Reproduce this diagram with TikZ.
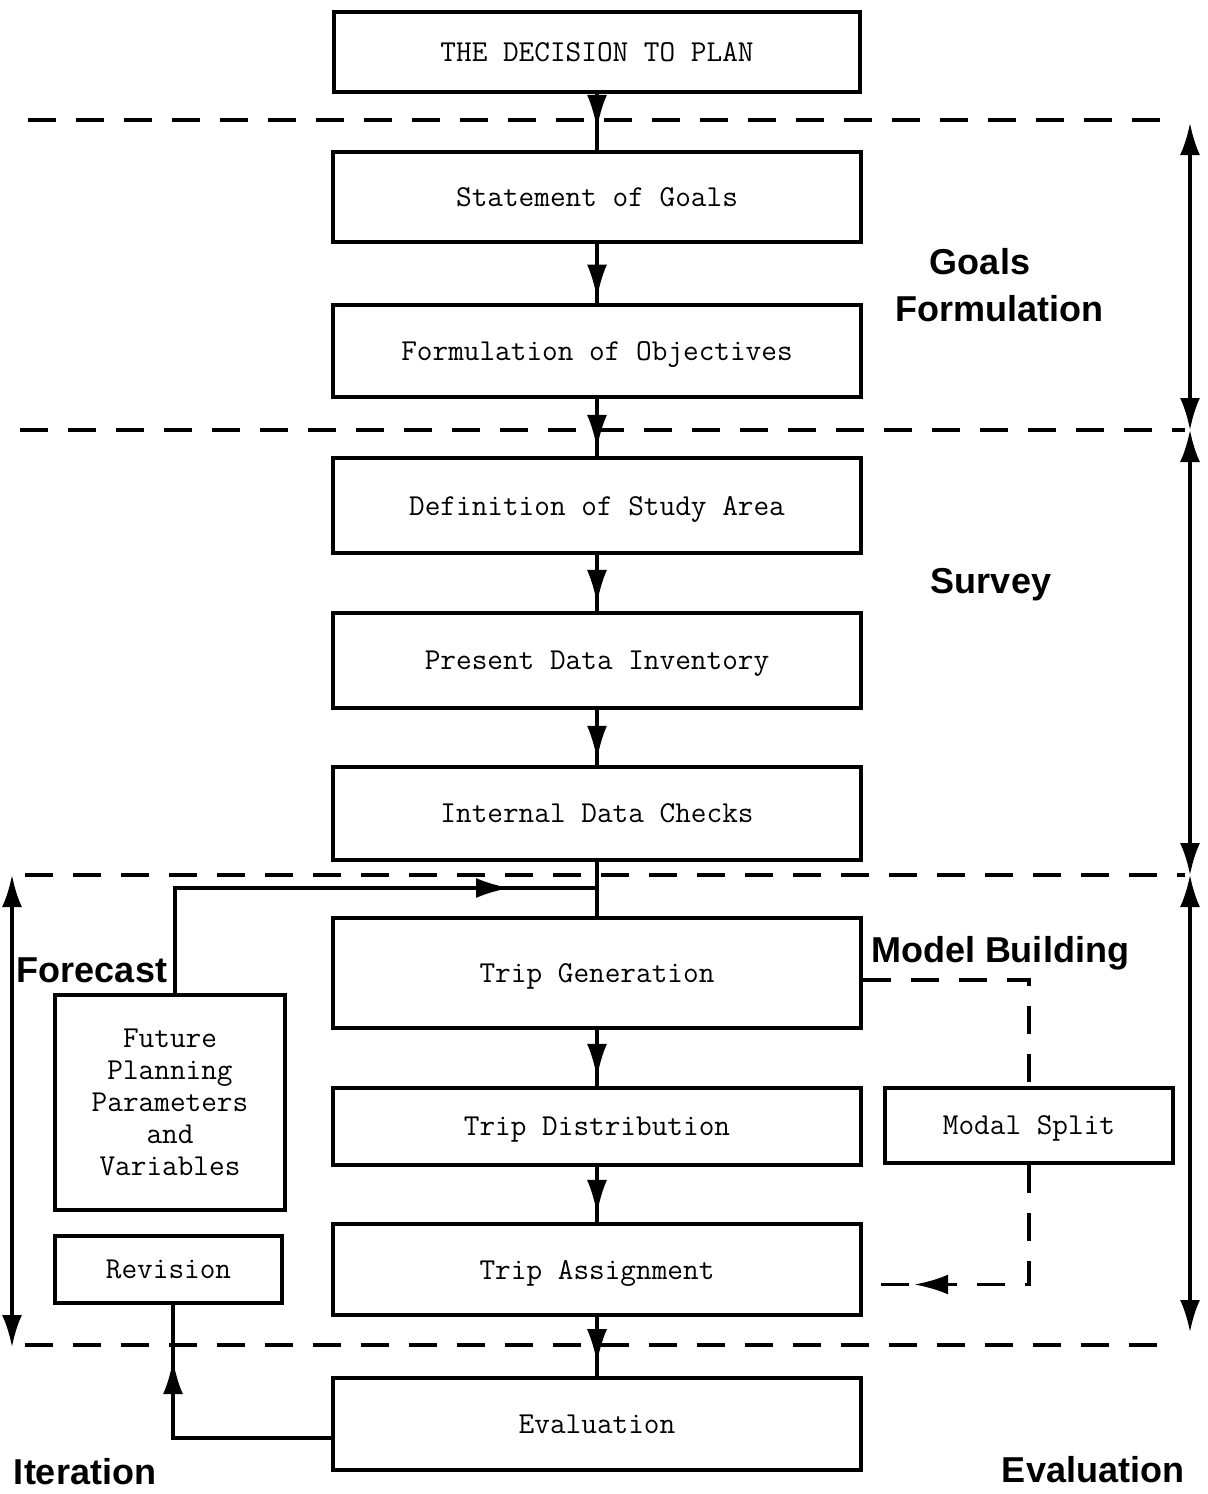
\documentclass[tikz,border=0pt]{standalone}
\usepackage{fontspec}
\newfontfamily\labfont{Liberation Sans}
\usetikzlibrary{arrows.meta,decorations.markings,calc}
\begin{document}
\begin{tikzpicture}[x=0.5pt,y=-0.5pt,
  box/.style={draw,line width=1.7pt,inner sep=0pt,text depth=-1.5pt,font=\ttfamily\fontsize{15.2}{16}\selectfont,align=center},
  sep/.style={line width=1.7pt,dash pattern=on 14pt off 10pt},
  conn/.style={line width=1.7pt},
  flow/.style={line width=1.7pt,postaction={decorate},decoration={markings,mark=at position #1 with {\arrow{Latex[length=17pt,width=10pt]}}}},
  span/.style={line width=1.7pt,{Latex[length=16pt,width=10pt]}-{Latex[length=16pt,width=10pt]}},
  lab/.style={font=\labfont\bfseries\fontsize{18}{21}\selectfont,inner sep=0pt}]
\useasboundingbox (0,0) rectangle (1208,1494);

% main boxes
\node[box,minimum width=263pt,minimum height=40pt] (dec) at (597,52) {THE DECISION TO PLAN};
\node[box,minimum width=264pt,minimum height=45pt] (goals) at (597,197) {Statement of Goals};
\node[box,minimum width=264pt,minimum height=46pt] (obj) at (597,351) {Formulation of Objectives};
\node[box,minimum width=264pt,minimum height=47.5pt] (area) at (597,505.5) {Definition of Study Area};
\node[box,minimum width=264pt,minimum height=47.5pt] (inv) at (597,660.5) {Present Data Inventory};
\node[box,minimum width=264pt,minimum height=46.5pt] (chk) at (597,813.5) {Internal Data Checks};
\node[box,minimum width=264pt,minimum height=55pt] (tg) at (597,973) {Trip Generation};
\node[box,minimum width=264pt,minimum height=38.5pt] (td) at (597,1126.5) {Trip Distribution};
\node[box,minimum width=264pt,minimum height=45.5pt] (ta) at (597,1269.5) {Trip Assignment};
\node[box,minimum width=264pt,minimum height=46pt] (ev) at (597,1424) {Evaluation};

% side boxes
\node[box,minimum width=115pt,minimum height=107.5pt] (fut) at (170,1102.5) {Future\\Planning\\Parameters\\and\\Variables};
\node[box,minimum width=113.5pt,minimum height=33.5pt] (rev) at (168.5,1269.5) {Revision};
\node[box,minimum width=144pt,minimum height=37.5pt] (ms) at (1029,1125.5) {Modal Split};

% dashed separators
\coordinate (s1a) at (28,120);   \coordinate (s1b) at (1178,120);
\coordinate (s2a) at (20,430);   \coordinate (s2b) at (1185,430);
\coordinate (s3a) at (25,875);   \coordinate (s3b) at (1185,875);
\coordinate (s4a) at (25,1345);  \coordinate (s4b) at (1170,1345);
\draw[sep] (s1a) -- (s1b);
\draw[sep] (s2a) -- (s2b);
\draw[sep] (s3a) -- (s3b);
\draw[sep] (s4a) -- (s4b);

% main flow
\draw[flow=0.62] (dec.south) -- (goals.north);
\draw[flow=0.92] (goals.south) -- (obj.north);
\draw[flow=0.87] (obj.south) -- (area.north);
\draw[flow=0.87] (area.south) -- (inv.north);
\draw[flow=0.9] (inv.south) -- (chk.north);
\draw[conn] (chk.south) -- (tg.north);
\draw[flow=0.85] (tg.south) -- (td.north);
\draw[flow=0.85] (td.south) -- (ta.north);
\draw[flow=0.78] (ta.south) -- (ev.north);

% feedback from forecast box
\coordinate (join) at (597,888);
\draw[flow=0.835] (fut.north -| 175,0) |- (join);

% modal split (dashed)
\draw[sep] ([yshift=-3.5pt]tg.east) -| (ms.north);
\draw[sep,flow=0.82] (ms.south) |- ([yshift=-7.5pt]ta.east);

% iteration loop
\draw[flow=0.81] ([yshift=-7pt]ev.west) -| (rev.south -| 173,0);

% stage spans
\coordinate (r1) at (1190,123);
\coordinate (r2) at (1190,430);
\coordinate (r3) at (1190,875);
\coordinate (r4) at (1190,1332);
\coordinate (l1) at (12,875);
\coordinate (l2) at (12,1347);
\draw[span] (r1) -- (r2);
\draw[span] (r2) -- (r3);
\draw[span] (r3) -- (r4);
\draw[span] (l1) -- (l2);

% labels
\node[lab] (lgoals) at (980,262) {Goals};
\node[lab] (lform) at (999,309) {Formulation};
\node[lab] (lsurv) at (991,585) {Survey};
\node[lab] (lmod) at (1000,953) {Model Building};
\node[lab] (lfore) at (92,970) {Forecast};
\node[lab] (liter) at (85,1472) {Iteration};
\node[lab] (leval) at (1093,1470) {Evaluation};
\end{tikzpicture}
\end{document}
